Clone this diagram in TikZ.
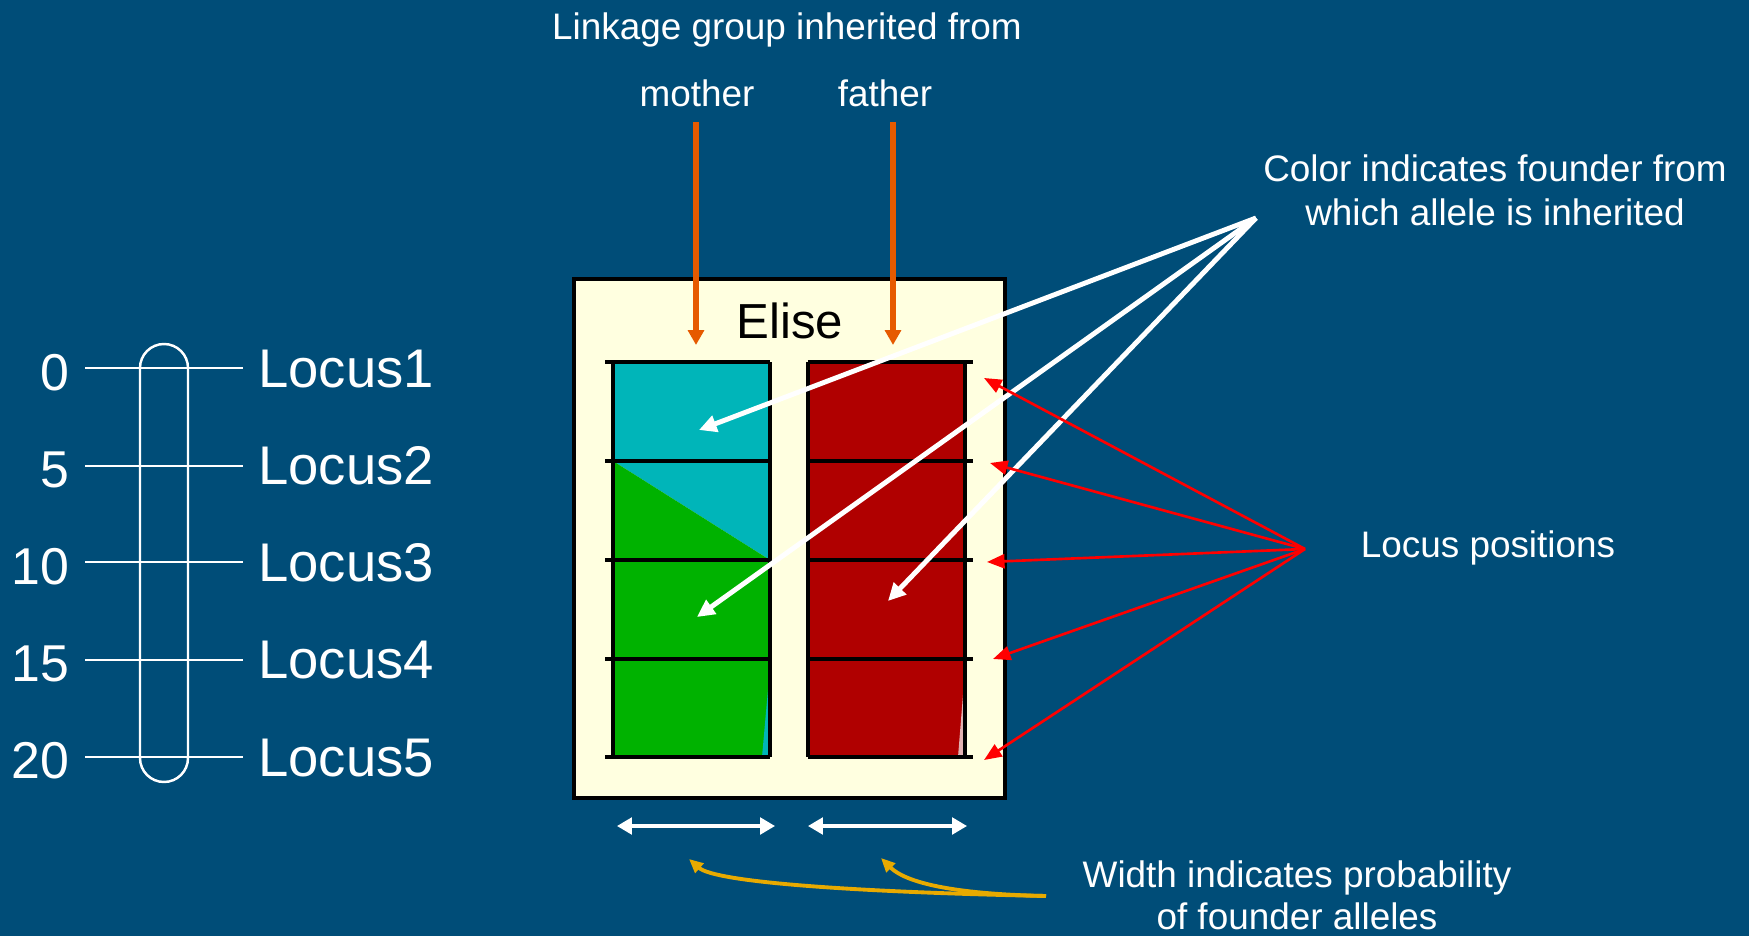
\documentclass[tikz,border=0pt]{standalone}
\usepackage{fontspec}
\setmainfont{Liberation Sans}
\usetikzlibrary{arrows.meta}
\definecolor{bgblue}{RGB}{0,77,120}
\definecolor{boxyellow}{RGB}{255,255,224}
\definecolor{fcyan}{RGB}{0,181,185}
\definecolor{fgreen}{RGB}{0,178,0}
\definecolor{fred}{RGB}{176,0,0}
\definecolor{fpink}{RGB}{225,178,178}
\definecolor{parentorange}{RGB}{230,90,0}
\definecolor{widthgold}{RGB}{232,170,0}
\newcommand{\numfont}{\fontsize{29.5}{32}\selectfont}
\newcommand{\bigfont}{\fontsize{31}{34}\selectfont}
\newcommand{\notefont}{\fontsize{21}{24}\selectfont}
\begin{document}
\begin{tikzpicture}[x=0.02cm,y=-0.02cm,
  txt/.style={text=white,inner sep=0,anchor=base},
  tick/.style={line width=1.9pt},
  whitearrow/.style={white,line width=2.8pt,-{Triangle[length=10pt,width=9.5pt]}},
  redarrow/.style={red,line width=1.5pt,-{Triangle[length=10pt,width=8pt]}}]
\fill[bgblue] (0,0) rectangle (1749,936);
\useasboundingbox (0,0) rectangle (1749,936);

% genetic map on the left
\draw[white,line width=1.4pt,rounded corners=0.48cm] (140,344) rectangle (188,782);
\coordinate (a1) at (85,368);  \coordinate (b1) at (243,368);
\coordinate (a2) at (85,466);  \coordinate (b2) at (243,466);
\coordinate (a3) at (85,562);  \coordinate (b3) at (243,562);
\coordinate (a4) at (85,660);  \coordinate (b4) at (243,660);
\coordinate (a5) at (85,757);  \coordinate (b5) at (243,757);
\draw[white,line width=1.4pt] (a1) -- (b1) (a2) -- (b2) (a3) -- (b3) (a4) -- (b4) (a5) -- (b5);
\node[txt,anchor=base east,font=\numfont] (N1) at (70,390) {0};
\node[txt,anchor=base east,font=\numfont] (N2) at (70,487) {5};
\node[txt,anchor=base east,font=\numfont] (N3) at (70,584) {10};
\node[txt,anchor=base east,font=\numfont] (N4) at (70,681) {15};
\node[txt,anchor=base east,font=\numfont] (N5) at (70,778) {20};
\node[txt,anchor=base west,font=\bigfont] (L1) at (258,387) {Locus1};
\node[txt,anchor=base west,font=\bigfont] (L2) at (258,484) {Locus2};
\node[txt,anchor=base west,font=\bigfont] (L3) at (258,581) {Locus3};
\node[txt,anchor=base west,font=\bigfont] (L4) at (258,678) {Locus4};
\node[txt,anchor=base west,font=\bigfont] (L5) at (258,776) {Locus5};

% the individual
\filldraw[fill=boxyellow,draw=black,line width=2pt] (574,279) rectangle (1005,798);
\node[inner sep=0,anchor=base,font=\fontsize{28}{30}\selectfont] (E) at (790,338) {Elise};

% maternal strand
\fill[fcyan] (613,362) rectangle (770,461);
\fill[fcyan] (613,461) -- (770,461) -- (770,560) -- cycle;
\fill[fgreen] (613,461) -- (770,560) -- (613,560) -- cycle;
\fill[fgreen] (613,560) rectangle (770,757);
\fill[fcyan] (770,667) -- (770,757) -- (762,757) -- cycle;
\draw[tick] (613,362) -- (613,757) (770,362) -- (770,757);
\draw[tick] (605,362) -- (770,362) (605,461) -- (770,461) (605,560) -- (770,560)
  (605,659) -- (770,659) (605,757) -- (770,757);

% paternal strand
\fill[fred] (808,362) rectangle (965,757);
\fill[fpink] (965,670) -- (965,757) -- (958,757) -- cycle;
\draw[tick] (808,362) -- (808,757) (965,362) -- (965,757);
\draw[tick] (808,362) -- (973,362) (808,461) -- (973,461) (808,560) -- (973,560)
  (808,659) -- (973,659) (808,757) -- (973,757);

% parents
\node[txt,font=\notefont] (LG) at (787,40) {Linkage group inherited from};
\node[txt,font=\notefont] (M) at (697,107) {mother};
\node[txt,font=\notefont] (F) at (885,107) {father};
\coordinate (M0) at (696,122); \coordinate (M1) at (696,345);
\coordinate (F0) at (893,122); \coordinate (F1) at (893,345);
\path[parentorange,line width=3.2pt,-{Triangle[length=8.5pt,width=9pt]}]
  (M0) edge (M1)
  (F0) edge (F1);

% founder colour
\node[txt,font=\notefont] (C1) at (1495,182) {Color indicates founder from};
\node[txt,font=\notefont] (C2) at (1495,225) {which allele is inherited};
\coordinate (C) at (1256,218);
\coordinate (T1) at (699,430);
\coordinate (T2) at (697,617);
\coordinate (T3) at (888,601);
\path[whitearrow]
  (C) edge (T1)
  (C) edge (T2)
  (C) edge (T3);

% locus positions
\node[txt,font=\notefont] (LP) at (1488,557) {Locus positions};
\coordinate (P) at (1305,549);
\coordinate (P1) at (984,378);
\coordinate (P2) at (990,463);
\coordinate (P3) at (987,562);
\coordinate (P4) at (993,659);
\coordinate (P5) at (984,760);
\path[redarrow]
  (P) edge (P1)
  (P) edge (P2)
  (P) edge (P3)
  (P) edge (P4)
  (P) edge (P5);

% widths
\coordinate (W1a) at (617,826); \coordinate (W1b) at (775,826);
\coordinate (W2a) at (808,826); \coordinate (W2b) at (967,826);
\path[white,line width=1.8pt,{Triangle[length=8.5pt,width=9.5pt]}-{Triangle[length=8.5pt,width=9.5pt]}]
  (W1a) edge (W1b)
  (W2a) edge (W2b);
\node[txt,font=\notefont] (WT1) at (1297,887) {Width indicates probability};
\node[txt,font=\notefont] (WT2) at (1297,929) {of founder alleles};
\coordinate (W0) at (1046,896);
\coordinate (G1) at (689,859);
\coordinate (G2) at (881,858);
\draw[widthgold,line width=2.2pt,-{Triangle[length=8pt,width=7pt]}]
  (W0) .. controls (850,892) and (715,882) .. (G1);
\draw[widthgold,line width=2.2pt,-{Triangle[length=8pt,width=7pt]}]
  (W0) .. controls (950,894) and (905,882) .. (G2);
\end{tikzpicture}
\end{document}
